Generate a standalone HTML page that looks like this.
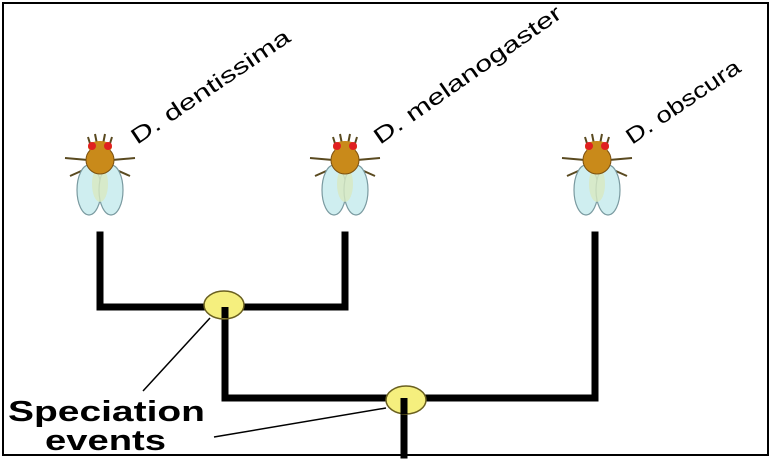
<!DOCTYPE html>
<html><head><style>
html,body{margin:0;padding:0;background:#fff;}
svg{display:block;}
text{font-family:"Liberation Sans",sans-serif;}
</style></head><body>
<svg width="773" height="462" viewBox="0 0 773 462">
<defs>
<g id="fly">
  <g stroke="#5a4a20" stroke-width="2" fill="none">
    <path d="M-8,-22 L-12,-35 M8,-22 L12,-35"/>
    <path d="M-12,-12 L-35,-14 M12,-12 L35,-14"/>
    <path d="M-12,-4 L-30,4 M12,-4 L30,4"/>
    <path d="M-3,-28 L-5,-38 M3,-28 L5,-38"/>
  </g>
  <ellipse cx="-11" cy="18" rx="12" ry="25" fill="#cfeef0" stroke="#7a9aa0" stroke-width="1.2"/>
  <ellipse cx="11" cy="18" rx="12" ry="25" fill="#cfeef0" stroke="#7a9aa0" stroke-width="1.2"/>
  <ellipse cx="0" cy="12" rx="8" ry="18" fill="#d8e8c0" opacity="0.8"/>
  <ellipse cx="0" cy="-12" rx="14" ry="14" fill="#c98a1a" stroke="#7a5010" stroke-width="1"/>
  <ellipse cx="0" cy="-25" rx="12" ry="6" fill="#c98a1a"/>
  <circle cx="-8" cy="-26" r="4" fill="#e02020"/>
  <circle cx="8" cy="-26" r="4" fill="#e02020"/>
</g>
</defs>
<rect x="3" y="3" width="765" height="452" fill="#fff" stroke="#000" stroke-width="2"/>
<use href="#fly" x="100" y="172"/>
<use href="#fly" x="345" y="172"/>
<use href="#fly" x="597" y="172"/>
<text x="137" y="145" font-size="22" textLength="187" lengthAdjust="spacingAndGlyphs" transform="rotate(-34 137 145)">D. dentissima</text>
<text x="380" y="145" font-size="22" textLength="224" lengthAdjust="spacingAndGlyphs" transform="rotate(-35 380 145)">D. melanogaster</text>
<text x="632" y="145" font-size="22" textLength="133" lengthAdjust="spacingAndGlyphs" transform="rotate(-34 632 145)">D. obscura</text>
<g stroke="#000" stroke-width="7" fill="none" stroke-linecap="square">
  <path d="M100,235 L100,307 L345,307 L345,235"/>
  <path d="M225,307 L225,398 L595,398 L595,235"/>
  <path d="M404,398 L404,455"/>
</g>
<ellipse cx="224" cy="305" rx="20" ry="14" fill="#f5ef7e" stroke="#6a6020" stroke-width="1.5"/>
<ellipse cx="406" cy="400" rx="20" ry="14" fill="#f5ef7e" stroke="#6a6020" stroke-width="1.5"/>
<path d="M225,307 L225,318" stroke="#000" stroke-width="7"/>
<path d="M404,398 L404,414" stroke="#000" stroke-width="7"/>
<line x1="143" y1="391" x2="210" y2="318" stroke="#000" stroke-width="1.5"/>
<line x1="214" y1="437" x2="386" y2="408" stroke="#000" stroke-width="1.5"/>
<text x="8" y="421" font-size="29" font-weight="bold" textLength="197" lengthAdjust="spacingAndGlyphs">Speciation</text>
<text x="45" y="450" font-size="29" font-weight="bold" textLength="121" lengthAdjust="spacingAndGlyphs">events</text>
</svg>
</body></html>
